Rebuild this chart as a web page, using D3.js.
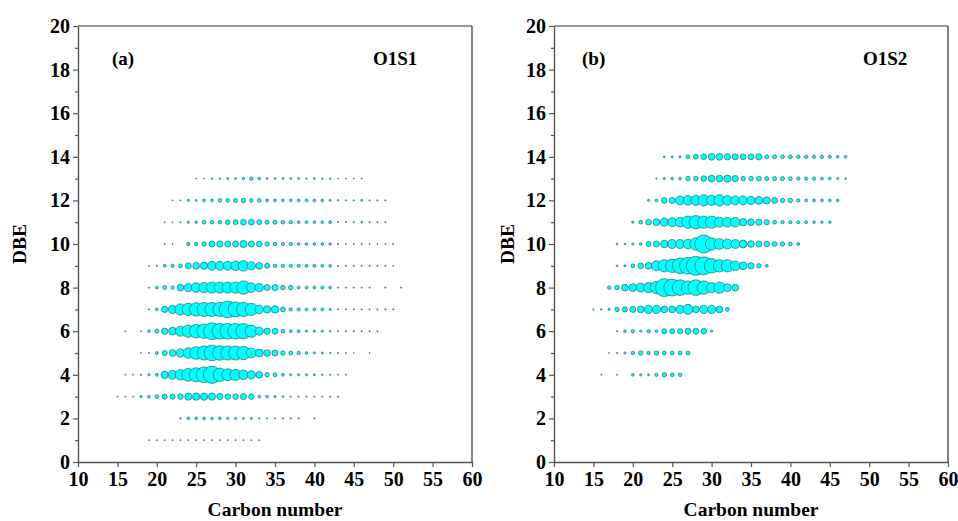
<!DOCTYPE html>
<html>
<head>
<meta charset="utf-8">
<script src="https://cdn.jsdelivr.net/npm/d3@7"></script>
<style>
  body { margin: 0; background: #fff; }
  svg text { font-family: "Liberation Serif", "DejaVu Serif", serif; font-weight: bold; fill: #000; }
</style>
</head>
<body>
<script>
// relative abundance of each carbon number within a DBE row; rows start at the given carbon number
var dbeA = [1, 2, 3, 4, 5, 6, 7, 8, 9, 10, 11, 12, 13];
var startA = [19, 23, 15, 16, 18, 16, 19, 19, 19, 21, 21, 22, 25];
var abundA = [
  [0.4,0.4,0.4,0.4,0.4,0.4,0.4,0.4,0.4,0.4,0.4,0.4,0.4,0.4,0.4],
  [0.7,2.3,2.0,2.0,1.7,2.0,1.4,1.4,1.1,1.4,0.7,0.5,0.5,0.5,0.5,0.5,0,0.5],
  [0.35,0.35,0.35,1.4,2.3,4.0,7.3,7.3,8.7,14.2,15.1,15.1,14.2,10.9,8.7,8.7,10.1,8.7,2.3,2.0,1.4,0.9,0.5,0.5,0.5,0.5,0.5,0.5,0.5],
  [0.35,0.35,0.7,1.4,2.3,15.1,22.1,30.6,45,55,67.8,82,49.8,38.9,34.6,25.6,18.9,12.5,5.5,4.0,2.3,1.4,1.4,1.4,1.1,0.7,0.5,0.35,0.35],
  [0.35,0.5,2.3,7.3,12.5,18.9,30.6,45,55,67.8,58.5,55,55,49.8,28,17,12.5,10.1,5.5,4.0,3.1,2.0,1.4,1.1,0.5,0.5,0.35,0.25,0,0.35],
  [0.35,0,0.35,2.0,4.5,10.9,17,28,41.9,49.8,58.5,77.9,67.8,67.8,67.8,64,41.9,18.9,10.9,10.1,4.0,2.3,2.3,1.4,1.4,1.4,0.7,0.5,0.5,0.5,0.5,0.5,0.5],
  [0.5,2.3,10.9,18.9,34.6,41.9,49.8,55,55,55,77.9,62,55,41.9,20,15.1,15.1,6.7,3.1,3.1,2.3,2.3,2.3,1.4,0.5,0.5,0.5,0.5,0.5,0.5,0.5,0.5],
  [0.5,2.0,4.5,3.1,12.5,18.9,25.6,30.6,34.6,34.6,34.6,34.6,49.8,25.6,18.9,10.1,10.1,5.5,5.5,2.3,2.3,2.3,2.7,2.0,0.5,0.5,0.5,0.5,0.5,0,0.5,0,0.5],
  [0.35,0.5,2.3,3.1,4.0,10.1,12.5,15.1,22.1,22.1,22.1,25.6,30.6,18.9,12.5,7.3,3.1,3.1,3.1,2.7,2.7,2.7,2.3,2.0,0.5,0.5,0.5,0.5,0.5,0.5,0.5,0.35],
  [0.35,0.35,0,3.1,3.1,5.5,10.1,10.9,10.1,10.1,14.2,10.1,8.7,5.5,3.1,2.7,3.1,2.0,2.0,2.0,2.0,1.7,0.5,0.35,0.35,0.5,0.35,0.35,0.35,0.5],
  [0.35,0.35,0.5,1.4,1.7,4.0,3.5,3.5,6.1,6.7,9.4,9.4,6.7,4.5,4.5,3.5,3.1,2.0,2.0,2.0,2.0,2.3,0.5,0.5,0.5,0.9,0.5,0.5,0.5],
  [0.35,0.35,1.4,1.1,2.3,2.3,3.5,3.5,4.5,5.5,3.5,3.5,2.3,2.3,2.3,2.3,2.3,2.3,2.3,2.0,1.1,0.7,0.5,0.5,1.1,0.5,0.5,0.5],
  [0.35,0.35,0.7,0.7,1.1,1.1,1.7,3.5,2.0,1.1,1.1,1.1,1.1,1.1,0.7,1.1,0.7,0.7,0.35,0.35,0.35,0.35]
];

var dbeB = [4, 5, 6, 7, 8, 9, 10, 11, 12, 13, 14];
var startB = [16, 17, 18, 15, 17, 18, 18, 20, 22, 23, 24];
var abundB = [
  [0.35,0,0.35,0,2.0,1.4,1.1,3.1,5.5,4.0,3.5],
  [0.35,0.5,1.4,3.1,5.5,3.1,5.5,4.0,4.0,4.0,4.5],
  [0.5,2.0,3.1,1.4,3.1,2.0,7.3,7.3,7.3,10.1,10.1,8.7,1.4],
  [0.5,0.7,1.4,5.5,7.3,10.1,12.5,18.9,18.9,12.5,12.5,18.9,28,12.5,18.9,18.9,12.5,4.0],
  [3.1,5.5,12.5,17,22.1,28,41.9,88.6,77.9,67.8,49.8,67.8,49.8,28,34.6,17,12.5],
  [0.9,1.4,4.0,8.7,12.5,28,41.9,49.8,67.8,77.9,100,88.6,58.5,41.9,41.9,25.6,17,10.9,5.5,2.3],
  [0.9,0.9,1.4,2.0,7.3,10.1,15.1,22.1,22.1,25.6,41.9,88.6,41.9,31.9,28,22.1,17,12.5,10.1,8.7,6.7,5.5,4.0,2.3],
  [1.4,4.0,8.7,12.5,18.9,22.1,25.6,41.9,49.8,41.9,41.9,28,25.6,25.6,15.1,12.5,10.9,7.3,4.0,3.1,2.7,2.7,2.3,2.0,1.7,1.7],
  [1.4,2.3,8.7,10.1,22.1,25.6,28,34.6,28,34.6,25.6,22.1,22.1,18.9,17,14.2,10.1,5.5,5.5,3.1,2.3,2.3,2.3,2.3,2.0],
  [0.5,1.4,2.0,2.3,5.5,5.5,8.7,12.5,12.5,14.2,10.9,5.5,5.5,6.7,4.5,4.5,4.5,4.0,3.1,3.1,3.1,2.3,2.0,1.4,0.9],
  [0.9,1.1,1.4,4.0,6.7,8.7,12.5,12.5,10.9,10.1,9.4,9.4,10.9,4.5,4.5,4.0,4.0,3.5,3.5,3.1,3.1,2.7,2.0,2.0]
];

var xTicks = [10, 15, 20, 25, 30, 35, 40, 45, 50, 55, 60];
var yTicks = [0, 2, 4, 6, 8, 10, 12, 14, 16, 18, 20];
var yMinor = [1, 3, 5, 7, 9, 11, 13, 15, 17, 19];

var width = 958, height = 521;
var pw = 394, ph = 436;

var svg = d3.select("body").append("svg")
    .attr("width", width)
    .attr("height", height);

var x = d3.scaleLinear().domain([10, 60]).range([0, pw]);
var y = d3.scaleLinear().domain([0, 20]).range([ph, 0]);
var r = d3.scaleSqrt().domain([0, 100]).range([0, 9.5]);

function flatten(dbe, start, abund) {
  var pts = [];
  abund.forEach(function (row, i) {
    row.forEach(function (v, j) {
      if (v > 0) pts.push({c: start[i] + j, dbe: dbe[i], v: v});
    });
  });
  return pts;
}

function panel(p) {
  var g = svg.append("g").attr("transform", "translate(" + p.left + "," + p.top + ")");

  g.selectAll("circle")
      .data(p.pts)
    .enter().append("circle")
      .attr("cx", function (d) { return x(d.c); })
      .attr("cy", function (d) { return y(d.dbe); })
      .attr("r", function (d) { return r(d.v); })
      .style("fill", "#00ffff")
      .style("stroke", "#2e6868")
      .style("stroke-width", 0.7);

  // frame
  g.append("line").attr("x1", 0).attr("x2", pw).attr("y1", 0).attr("y2", 0)
      .style("stroke", "#333").style("stroke-width", 1.2);
  g.append("line").attr("x1", pw).attr("x2", pw).attr("y1", 0).attr("y2", ph)
      .style("stroke", "#333").style("stroke-width", 1.2);

  g.append("g")
      .attr("transform", "translate(0," + ph + ")")
      .call(d3.axisBottom(x).tickValues(xTicks).tickSize(5).tickPadding(5).tickSizeOuter(0));
  g.append("g")
      .call(d3.axisLeft(y).tickValues(yTicks).tickSize(5).tickPadding(3).tickSizeOuter(0));
  g.append("g")
      .call(d3.axisLeft(y).tickValues(yMinor).tickSize(3).tickFormat("").tickSizeOuter(0))
      .select(".domain").remove();

  g.selectAll(".domain").style("stroke", "#555").style("stroke-width", 1.4);
  g.selectAll(".tick line").style("stroke", "#555").style("stroke-width", 1.2);
  g.selectAll(".tick text")
      .style("font-family", "'Liberation Serif', 'DejaVu Serif', serif")
      .style("font-weight", "bold")
      .style("font-size", "20px")
      .style("fill", "#000");

  g.append("text")
      .attr("x", pw / 2)
      .attr("y", ph + 54)
      .attr("text-anchor", "middle")
      .style("font-size", "19.5px")
      .text("Carbon number");

  g.append("text")
      .attr("transform", "translate(" + p.dbeX + "," + (ph / 2) + ") rotate(-90)")
      .attr("text-anchor", "middle")
      .style("font-size", "19.5px")
      .text("DBE");

  g.append("text")
      .attr("x", p.tagX)
      .attr("y", 39)
      .style("font-size", "19px")
      .text(p.tag);

  g.append("text")
      .attr("x", p.nameX)
      .attr("y", 39)
      .style("font-size", "19px")
      .text(p.name);
}

panel({left: 78, top: 26, tag: "(a)", name: "O1S1", tagX: 34, nameX: 295, dbeX: -52,
       pts: flatten(dbeA, startA, abundA)});
panel({left: 554, top: 26, tag: "(b)", name: "O1S2", tagX: 28, nameX: 309, dbeX: -40,
       pts: flatten(dbeB, startB, abundB)});
</script>
</body>
</html>
